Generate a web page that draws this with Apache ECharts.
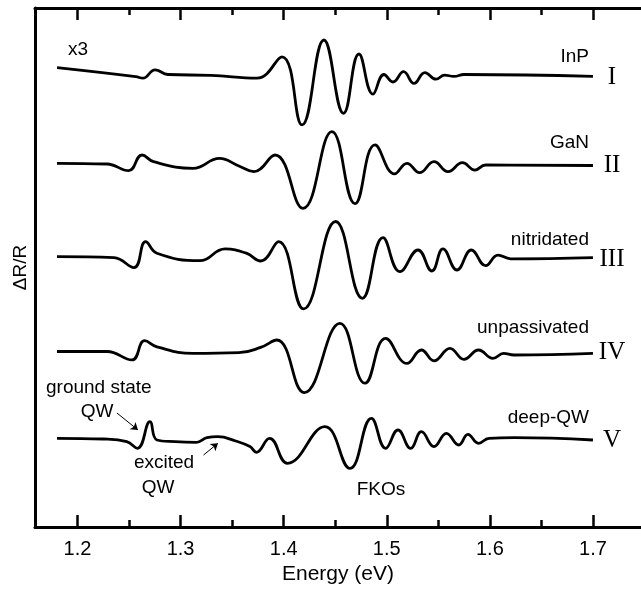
<!DOCTYPE html>
<html>
<head>
<meta charset="utf-8">
<script src="https://cdn.jsdelivr.net/npm/echarts@6/dist/echarts.min.js"></script>
<style>
  html, body { margin: 0; padding: 0; background: #fff; }
  #main { width: 641px; height: 593px; }
</style>
</head>
<body>
<div id="main"></div>
<script>
// energy axis (eV)
const xMin = 1.1588;
const xMax = 1.7466;
const majorTicks = [1.2, 1.3, 1.4, 1.5, 1.6, 1.7];
const minorTicks = [1.25, 1.35, 1.45, 1.55, 1.65];

// vertical offset of each spectrum (arb. units)
const baselines = [45.25, 36.34, 26.91, 17.55, 8.84];
const traceNames = ['I', 'II', 'III', 'IV', 'V'];

// ΔR/R readings, [energy, value] pairs
const traceI = [
  [1.1802, 0.68], [1.2565, -0.22], [1.2635, -0.37], [1.2752, 0.47], [1.2878, 0],
  [1.3295, -0.09], [1.3741, -0.37], [1.3984, 1.77], [1.4178, -5.04], [1.439, 3.45],
  [1.4581, -3.88], [1.473, 2.05], [1.4866, -1.96], [1.4973, 0], [1.506, -0.75],
  [1.5163, 0.28], [1.5264, -0.89], [1.537, 0.19], [1.5477, -0.47], [1.5561, -0.06],
  [1.5652, -0.19], [1.5749, 0], [1.70, -0.19]
];
const traceII = [
  [1.1801, 0.03], [1.2286, -0.04], [1.2496, -0.71], [1.2626, 0.86], [1.2738, 0.19],
  [1.312, -0.47], [1.3378, 0.52], [1.3566, -0.24], [1.3712, -0.8], [1.3916, 0.86],
  [1.4187, -4.48], [1.4468, 3.19], [1.4692, -4.01], [1.4886, 1.87], [1.5076, -1.03],
  [1.5196, 0.03], [1.5318, -0.91], [1.5458, 0.19], [1.5594, -0.8], [1.5734, 0.09],
  [1.5855, -0.65], [1.5959, -0.14], [1.70, -0.19]
];
const traceIII = [
  [1.1801, 0.13], [1.2354, 0.03], [1.2548, -0.97], [1.2661, 1.62], [1.2771, 0.47],
  [1.3188, -0.28], [1.3431, 0.9], [1.3638, 0.47], [1.3777, -0.31], [1.3951, 1.62],
  [1.4193, -5.1], [1.4504, 3.64], [1.4764, -4.04], [1.4963, 2.03], [1.5128, -1.37],
  [1.5303, 0.79], [1.5438, -1.31], [1.5545, 0.9], [1.5681, -1.21], [1.5821, 0.79],
  [1.5959, -0.77], [1.6079, 0.28], [1.6202, -0.09], [1.70, 0.03]
];
const traceIV = [
  [1.1801, 0], [1.2286, 0], [1.2529, -0.84], [1.2651, 1.08], [1.2771, 0.47],
  [1.312, -0.19], [1.3566, -0.12], [1.3777, 0.41], [1.3933, 1.15], [1.42, -4.11],
  [1.4546, 2.82], [1.4789, -3.17], [1.4989, 1.31], [1.5196, -1.19], [1.5336, 0.15],
  [1.5458, -0.93], [1.5613, 0.32], [1.5749, -0.78], [1.589, 0.15], [1.603, -0.69],
  [1.6133, -0.19], [1.6234, -0.35], [1.70, -0.19]
];
const traceV = [
  [1.1801, 0.03], [1.2253, -0.04], [1.2478, -0.31], [1.2582, -0.97], [1.2703, 1.69],
  [1.2771, -0.14], [1.2946, -0.31], [1.3153, -0.37], [1.3256, 0.09], [1.3362, 0.19],
  [1.3534, -0.24], [1.3673, -0.8], [1.3735, -1.37], [1.3863, 0.03], [1.4037, -2.47],
  [1.44, 1.19], [1.4643, -2.98], [1.4851, 2.03], [1.4989, -0.97], [1.5109, 0.86],
  [1.5232, -0.97], [1.5336, 0.69], [1.5458, -0.8], [1.5578, 0.52], [1.5699, -0.64],
  [1.5787, 0.43], [1.589, -0.47], [1.5991, 0.03], [1.6234, 0.09], [1.70, -0.14]
];
const traces = [traceI, traceII, traceIII, traceIV, traceV];

// arrow annotations in data space: [from, to]
const arrowGround = [[1.2383, 11.4], [1.2587, 9.7]];
const arrowExcited = [[1.3223, 7.2], [1.3362, 8.37]];

const chart = echarts.init(document.getElementById('main'));

const sansFont = '"Liberation Sans", Arial, sans-serif';
const serifFont = '"Liberation Serif", "Times New Roman", serif';

function xAxisDef(pos, ticks, len, withLine, withLabel) {
  return {
    type: 'value', position: pos, min: xMin, max: xMax,
    axisLine: { show: withLine, lineStyle: { color: '#000', width: 3 } },
    axisTick: { show: true, inside: true, length: len, customValues: ticks,
                lineStyle: { color: '#000', width: 2.5 } },
    axisLabel: withLabel ? {
      show: true, customValues: ticks, margin: 12,
      color: '#000', fontSize: 20, fontFamily: sansFont,
      formatter: v => v.toFixed(1)
    } : { show: false },
    splitLine: { show: false }
  };
}

const xAxes = [
  xAxisDef('bottom', majorTicks, 12, true, true),
  xAxisDef('bottom', minorTicks, 7, false, false),
  xAxisDef('top', majorTicks, 12, true, false),
  xAxisDef('top', minorTicks, 7, false, false)
];
xAxes[0].name = 'Energy (eV)';
xAxes[0].nameLocation = 'middle';
xAxes[0].nameGap = 32;
xAxes[0].nameTextStyle = { color: '#000', fontSize: 21, fontFamily: sansFont };

const series = traces.map((t, i) => ({
  name: traceNames[i],
  type: 'line',
  xAxisIndex: 0,
  smooth: 0.45,
  showSymbol: false,
  silent: true,
  lineStyle: { color: '#000', width: 2.8 },
  data: t.map(p => [p[0], p[1] + baselines[i]])
}));

series[4].markLine = {
  silent: true,
  symbol: ['none', 'arrow'],
  symbolSize: 7,
  label: { show: false },
  lineStyle: { color: '#000', width: 1, type: 'solid' },
  data: [
    [{ coord: arrowGround[0] }, { coord: arrowGround[1] }],
    [{ coord: arrowExcited[0] }, { coord: arrowExcited[1] }]
  ]
};

function label(text, x, y, align, size, font) {
  return {
    type: 'text', x: x, y: y,
    style: { text: text, fill: '#000', fontSize: size || 19,
             fontFamily: font || sansFont, textAlign: align || 'left',
             textVerticalAlign: 'middle' }
  };
}

const option = {
  animation: false,
  grid: { left: 35, right: 0, top: 8, bottom: 66 },
  xAxis: xAxes,
  yAxis: {
    type: 'value', min: 0, max: 51.9,
    axisLine: { show: true, lineStyle: { color: '#000', width: 3 } },
    axisTick: { show: false },
    axisLabel: { show: false },
    splitLine: { show: false },
    name: 'ΔR/R', nameLocation: 'middle', nameGap: 5, nameRotate: 90,
    nameTextStyle: { color: '#000', fontSize: 19, fontFamily: sansFont }
  },
  series: series,
  graphic: [
    label('x3', 68, 50),
    label('InP', 589, 57, 'right'),
    label('GaN', 589, 143, 'right'),
    label('nitridated', 589, 240, 'right'),
    label('unpassivated', 589, 328, 'right'),
    label('deep-QW', 589, 418, 'right'),
    label('ground state', 46, 388),
    label('QW', 97, 412, 'center'),
    label('excited', 164, 463, 'center'),
    label('QW', 158, 488, 'center'),
    label('FKOs', 381, 490, 'center'),
    label('I', 612, 77, 'center', 25, serifFont),
    label('II', 612, 165, 'center', 25, serifFont),
    label('III', 612, 259, 'center', 25, serifFont),
    label('IV', 612, 352, 'center', 25, serifFont),
    label('V', 612, 440, 'center', 25, serifFont)
  ]
};

chart.setOption(option);
</script>
</body>
</html>
